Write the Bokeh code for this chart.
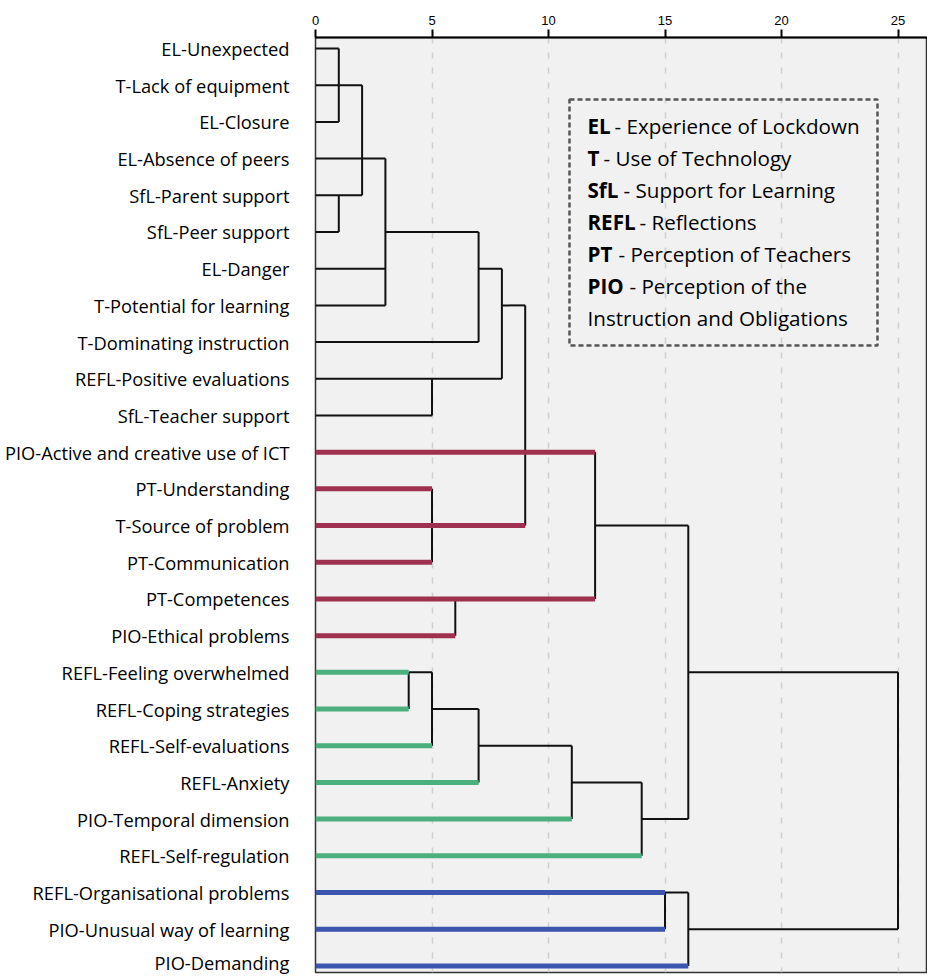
from bokeh.plotting import figure
from bokeh.models import Range1d, FixedTicker, BoxAnnotation, ColumnDataSource
from bokeh.core.properties import value
from bokeh.embed import file_html
from bokeh.resources import INLINE

# ---------------- data ----------------
leaf_labels = [
    "EL-Unexpected", "T-Lack of equipment", "EL-Closure", "EL-Absence of peers",
    "SfL-Parent support", "SfL-Peer support", "EL-Danger", "T-Potential for learning",
    "T-Dominating instruction", "REFL-Positive evaluations", "SfL-Teacher support",
    "PIO-Active and creative use of ICT", "PT-Understanding", "T-Source of problem",
    "PT-Communication", "PT-Competences", "PIO-Ethical problems",
    "REFL-Feeling overwhelmed", "REFL-Coping strategies", "REFL-Self-evaluations",
    "REFL-Anxiety", "PIO-Temporal dimension", "REFL-Self-regulation",
    "REFL-Organisational problems", "PIO-Unusual way of learning", "PIO-Demanding",
]
leaf_height = [1, 2, 1, 3, 2, 1, 3, 3, 7, 8, 5,
               12, 5, 9, 5, 12, 6,
               4, 4, 5, 7, 11, 14,
               15, 15, 16]
leaf_cluster = ["none"] * 11 + ["red"] * 6 + ["green"] * 6 + ["blue"] * 3

# vertical joins: height, first leaf, last leaf
join_height = [1, 2, 1, 3, 7, 8, 5, 9, 5, 12, 6, 16, 4, 5, 7, 11, 14, 15, 16, 25]
join_from   = [0, 1, 4, 3, 5, 6, 9, 7, 12, 11, 15, 13, 17, 17, 18, 19, 20, 23, 23, 17]
join_to     = [2, 4, 5, 7, 8, 9, 10, 13, 14, 15, 16, 21, 18, 19, 20, 21, 22, 24, 25, 24]

# horizontal links between joins: leaf row, from height, to height
link_leaf = [5, 6, 7, 13, 17, 18, 19, 20, 21, 17, 23, 24]
link_from = [3, 7, 8, 12, 4, 5, 7, 11, 14, 16, 15, 16]
link_to   = [7, 8, 9, 16, 5, 7, 11, 14, 16, 25, 16, 25]

x_ticks = [0, 5, 10, 15, 20, 25]

legend_bold = ["EL", "T", "SfL", "REFL", "PT", "PIO", ""]
legend_rest = ["- Experience of Lockdown", "- Use of Technology", "- Support for Learning",
               "- Reflections", "- Perception of Teachers", "- Perception of the",
               "Instruction and Obligations"]

# ---------------- styles ----------------
cluster_colors = {"none": "#111111", "red": "#a0304f", "green": "#4caf7e", "blue": "#3c55ae"}
cluster_widths = {"none": 2.0, "red": 5.0, "green": 5.0, "blue": 5.0}
FONT = "Open Sans"

W, H = 927, 974
LEFT = 315
TOP = 37
BOTTOM = 2
px_per_x = 23.3
x_end = (W - LEFT) / px_per_x
px_per_y = 36.7

p = figure(width=W, height=H, output_backend="svg", toolbar_location=None,
           x_range=Range1d(0, x_end), y_range=Range1d(25.18, -0.30),
           x_axis_location="above",
           min_border_left=LEFT, min_border_right=0, min_border_top=TOP,
           min_border_bottom=BOTTOM)
p.background_fill_color = "#f1f1f1"
p.border_fill_color = "white"
p.outline_line_color = "#333333"
p.outline_line_width = 1.5

# grid
p.xgrid.ticker = FixedTicker(ticks=[5, 10, 15, 20, 25])
p.xgrid.grid_line_color = "#cfcfcf"
p.xgrid.grid_line_dash = "6 9"
p.xgrid.grid_line_width = 1.5
p.ygrid.grid_line_color = None

# top axis
xa = p.xaxis[0]
xa.ticker = FixedTicker(ticks=x_ticks)
xa.axis_line_color = "black"
xa.axis_line_width = 2
xa.major_tick_line_color = "black"
xa.major_tick_line_width = 2
xa.major_tick_out = 8
xa.major_tick_in = 0
xa.minor_tick_line_color = None
xa.major_label_text_font = "Liberation Sans"
xa.major_label_text_font_size = "13px"
xa.major_label_text_color = "black"
xa.major_label_standoff = 5

# left axis with leaf labels
ya = p.yaxis[0]
ya.ticker = FixedTicker(ticks=list(range(len(leaf_labels))))
ya.major_label_overrides = {i: lab for i, lab in enumerate(leaf_labels)}
ya.axis_line_color = None
ya.major_tick_line_color = None
ya.minor_tick_line_color = None
ya.major_label_standoff = 20
ya.major_label_text_font = FONT
ya.major_label_text_font_size = "18.3px"
ya.major_label_text_color = "black"

# black connection segments
jsrc = ColumnDataSource(dict(x0=join_height, x1=join_height, y0=join_from, y1=join_to))
p.segment(x0="x0", y0="y0", x1="x1", y1="y1", source=jsrc,
          line_color=cluster_colors["none"], line_width=cluster_widths["none"])
lsrc = ColumnDataSource(dict(x0=link_from, x1=link_to, y0=link_leaf, y1=link_leaf))
p.segment(x0="x0", y0="y0", x1="x1", y1="y1", source=lsrc,
          line_color=cluster_colors["none"], line_width=cluster_widths["none"])

# leaf branches
n = len(leaf_labels)
bsrc = ColumnDataSource(dict(
    x0=[0] * n, x1=leaf_height, y=list(range(n)),
    color=[cluster_colors[c] for c in leaf_cluster],
    width=[cluster_widths[c] for c in leaf_cluster],
))
p.segment(x0="x0", y0="y", x1="x1", y1="y", source=bsrc,
          line_color="color", line_width="width")

# legend box (pixel positions converted to data units)
def dx(px):
    return (px - LEFT) / px_per_x
def dy(py):
    return (py - 48) / px_per_y

p.add_layout(BoxAnnotation(left=dx(569), right=dx(877), top=dy(99), bottom=dy(345),
                           fill_alpha=0, line_color="#555555", line_alpha=1.0,
                           line_width=2.5, line_dash="5 3"))

rest_px = [614, 603, 623, 639, 618, 629, 587]
line_py = [126, 158, 190, 222, 254, 286, 318]
p.text(x=[dx(587)] * len(legend_bold), y=[dy(v) for v in line_py], text=legend_bold,
       text_font=value(FONT), text_font_style="bold", text_font_size="20.6px",
       text_color="black", text_baseline="middle", text_align="left")
p.text(x=[dx(v) for v in rest_px], y=[dy(v) for v in line_py], text=legend_rest,
       text_font=value(FONT), text_font_size="20.6px",
       text_color="black", text_baseline="middle", text_align="left")

open("out.html", "w").write(file_html(p, INLINE))
